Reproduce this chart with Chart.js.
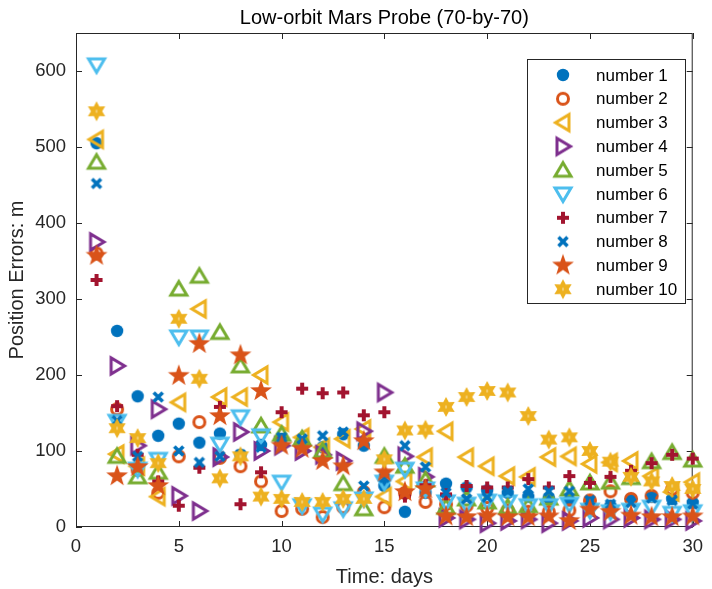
<!DOCTYPE html>
<html>
<head>
<meta charset="utf-8">
<script src="https://cdn.jsdelivr.net/npm/chart.js@4.4.1/dist/chart.umd.min.js"></script>
<style>
  html, body { margin: 0; padding: 0; background: #fff; }
</style>
</head>
<body>
<canvas id="chart" width="712" height="589"></canvas>
<script>
// days on the x axis
const days = [1, 2, 3, 4, 5, 6, 7, 8, 9, 10, 11, 12, 13, 14, 15, 16, 17, 18, 19, 20, 21, 22, 23, 24, 25, 26, 27, 28, 29, 30];

// position errors (m)
const number1 = [505, 258, 172, 120, 136, 111, 123, 95, 108, 116, 110, 105, 122, 107, 54, 20, 45, 57, 52, 48, 45, 40, 38, 35, 33, 28, 37, 40, 37, 32];
const number2 = [360, 155, 75, 45, 93, 138, 91, 80, 60, 21, 24, 13, 26, 46, 26, 45, 33, 30, 28, 25, 22, 20, 20, 22, 35, 47, 37, 41, 50, 45];
const number3 = [510, 96, 80, 40, 164, 287, 171, 171, 200, 138, 118, 105, 116, 129, 40, 60, 92, 126, 92, 80, 67, 66, 92, 93, 83, 85, 87, 67, 46, 59];
const number4 = [375, 212, 107, 155, 41, 21, 92, 125, 100, 107, 100, 95, 87, 126, 177, 93, 66, 12, 10, 5, 8, 10, 5, 8, 12, 10, 12, 10, 10, 8];
const number5 = [480, 93, 66, 72, 313, 330, 256, 212, 133, 122, 116, 100, 57, 24, 93, 80, 62, 26, 37, 33, 26, 28, 38, 50, 58, 59, 65, 86, 98, 88];
const number6 = [608, 139, 76, 89, 250, 250, 109, 145, 120, 59, 28, 17, 24, 37, 59, 76, 50, 33, 30, 34, 33, 28, 28, 30, 22, 20, 22, 26, 18, 20];
const number7 = [325, 159, 95, 60, 28, 78, 158, 30, 72, 151, 182, 176, 177, 147, 151, 40, 55, 43, 54, 52, 52, 63, 52, 67, 58, 66, 74, 84, 95, 90];
const number8 = [452, 140, 93, 171, 100, 85, 93, 95, 105, 118, 116, 120, 125, 54, 65, 107, 79, 45, 37, 39, 47, 50, 47, 47, 35, 30, 32, 38, 35, 30];
const number9 = [357, 67, 79, 54, 199, 241, 146, 226, 179, 107, 103, 87, 80, 113, 72, 46, 50, 14, 13, 14, 13, 13, 14, 8, 23, 20, 15, 13, 13, 14];
const number10 = [547, 130, 117, 84, 274, 195, 64, 93, 40, 37, 33, 33, 37, 37, 89, 127, 128, 158, 171, 179, 177, 146, 115, 118, 100, 86, 66, 60, 54, 50];

const names = ['number 1', 'number 2', 'number 3', 'number 4', 'number 5', 'number 6', 'number 7', 'number 8', 'number 9', 'number 10'];
const xTicks = [0, 5, 10, 15, 20, 25, 30];
const yTicks = [0, 100, 200, 300, 400, 500, 600];

const allSeries = [number1, number2, number3, number4, number5, number6, number7, number8, number9, number10];
const colors = ['#0072BD', '#D95319', '#EDB120', '#7E2F8E', '#77AC30', '#4DBEEE', '#A2142F', '#0072BD', '#D95319', '#EDB120'];
const shapes = ['dot', 'ring', 'left', 'right', 'up', 'down', 'plus', 'cross', 'penta', 'hexa'];

const FONT = '"Liberation Sans", Arial, Helvetica, sans-serif';
const INK = '#262626';

// draw each marker once on a small canvas, used as pointStyle
function makeMarker(shape, color) {
    const c = document.createElement('canvas');
    c.width = 26; c.height = 26;
    const g = c.getContext('2d');
    g.translate(13, 13);
    g.strokeStyle = color;
    g.fillStyle = color;
    g.lineWidth = 3;
    g.lineJoin = 'miter';

    const tri = (angle) => {
        g.rotate(angle);
        g.beginPath();
        g.moveTo(0, -7.5);
        g.lineTo(8, 6);
        g.lineTo(-8, 6);
        g.closePath();
        g.stroke();
    };
    const star = (n, outer, inner) => {
        g.beginPath();
        for (let k = 0; k < n * 2; k++) {
            const r = k % 2 === 0 ? outer : inner;
            const a = -Math.PI / 2 + k * Math.PI / n;
            g.lineTo(r * Math.cos(a), r * Math.sin(a));
        }
        g.closePath();
        g.fill();
    };

    if (shape === 'dot') {
        g.beginPath(); g.arc(0, 0, 6.2, 0, Math.PI * 2); g.fill();
    } else if (shape === 'ring') {
        g.beginPath(); g.arc(0, 0, 5.5, 0, Math.PI * 2); g.stroke();
    } else if (shape === 'up') {
        tri(0);
    } else if (shape === 'down') {
        tri(Math.PI);
    } else if (shape === 'left') {
        tri(-Math.PI / 2);
    } else if (shape === 'right') {
        tri(Math.PI / 2);
    } else if (shape === 'plus') {
        g.fillRect(-6, -2, 12, 4);
        g.fillRect(-2, -6, 4, 12);
    } else if (shape === 'cross') {
        g.lineWidth = 3.6;
        g.beginPath();
        g.moveTo(-4.5, -4.5); g.lineTo(4.5, 4.5);
        g.moveTo(4.5, -4.5); g.lineTo(-4.5, 4.5);
        g.stroke();
    } else if (shape === 'penta') {
        star(5, 11.5, 4.6);
    } else if (shape === 'hexa') {
        star(6, 10, 5.6);
        g.fillStyle = '#fbe9bd';
        g.fillRect(-0.5, -1.5, 1, 3);
    }
    return c;
}

const markers = shapes.map((s, i) => makeMarker(s, colors[i]));

const datasets = allSeries.map((vals, i) => ({
    label: names[i],
    data: days.map((d, j) => ({ x: d, y: vals[j] })),
    pointStyle: markers[i],
    pointRadius: 8,
    showLine: false,
    clip: false,
    order: 10 - i // later series drawn on top, like the original
}));

// box, inward ticks, title and legend
const framePlugin = {
    id: 'frame',
    beforeDatasetsDraw(chart) {
        const { ctx, chartArea: a, scales } = chart;
        ctx.save();
        ctx.strokeStyle = INK;
        ctx.lineWidth = 1;
        ctx.strokeRect(a.left + 0.5, a.top + 0.5, a.right - a.left - 1, a.bottom - a.top - 1);
        ctx.beginPath();
        xTicks.forEach(v => {
            const px = Math.round(scales.x.getPixelForValue(v)) + 0.5;
            ctx.moveTo(px, a.bottom); ctx.lineTo(px, a.bottom - 6);
            ctx.moveTo(px, a.top); ctx.lineTo(px, a.top + 6);
        });
        yTicks.forEach(v => {
            const py = Math.round(scales.y.getPixelForValue(v)) + 0.5;
            ctx.moveTo(a.left, py); ctx.lineTo(a.left + 6, py);
            ctx.moveTo(a.right, py); ctx.lineTo(a.right - 6, py);
        });
        ctx.stroke();
        ctx.restore();
    },
    afterDraw(chart) {
        const { ctx, chartArea: a } = chart;
        ctx.save();
        // title
        ctx.fillStyle = '#000';
        ctx.font = '20px ' + FONT;
        ctx.textAlign = 'center';
        ctx.textBaseline = 'middle';
        ctx.fillText('Low-orbit Mars Probe (70-by-70)', (a.left + a.right) / 2, 18);

        // legend
        const lx = 527, ly = 59, lw = 158, lh = 244;
        ctx.fillStyle = '#fff';
        ctx.fillRect(lx, ly, lw, lh);
        ctx.strokeStyle = INK;
        ctx.lineWidth = 1;
        ctx.strokeRect(lx + 0.5, ly + 0.5, lw, lh);
        ctx.font = '17px ' + FONT;
        ctx.textAlign = 'left';
        ctx.fillStyle = '#000';
        names.forEach((n, i) => {
            const y = 75 + i * 23.8;
            const m = markers[i];
            ctx.drawImage(m, 563 - m.width / 2, y - m.height / 2);
            ctx.fillText(n, 596, y + 1);
        });
        ctx.restore();
    }
};

new Chart(document.getElementById('chart'), {
    type: 'scatter',
    data: { datasets: datasets },
    options: {
        responsive: false,
        animation: false,
        devicePixelRatio: 1,
        layout: { padding: { top: 33, right: 14, left: 0, bottom: 0 } },
        plugins: {
            legend: { display: false },
            tooltip: { enabled: false },
            title: { display: false }
        },
        scales: {
            x: {
                type: 'linear',
                min: 0,
                max: 30,
                grid: { display: false, drawTicks: false },
                border: { display: false },
                ticks: { color: INK, font: { family: FONT, size: 18.5 }, padding: 9, maxRotation: 0 },
                afterBuildTicks: s => { s.ticks = xTicks.map(v => ({ value: v })); },
                afterFit: s => { s.height = 62; },
                title: { display: true, text: 'Time: days', color: INK, font: { family: FONT, size: 20 }, padding: { top: 0, bottom: 0 } }
            },
            y: {
                type: 'linear',
                min: 0,
                max: 650,
                grid: { display: false, drawTicks: false },
                border: { display: false },
                ticks: { color: INK, font: { family: FONT, size: 18.5 }, padding: 10 },
                afterBuildTicks: s => { s.ticks = yTicks.map(v => ({ value: v })); },
                afterFit: s => { s.width = 76; },
                title: { display: true, text: 'Position Errors: m', color: INK, font: { family: FONT, size: 20 }, padding: { top: 5, bottom: 0 } }
            }
        }
    },
    plugins: [framePlugin]
});
</script>
</body>
</html>
